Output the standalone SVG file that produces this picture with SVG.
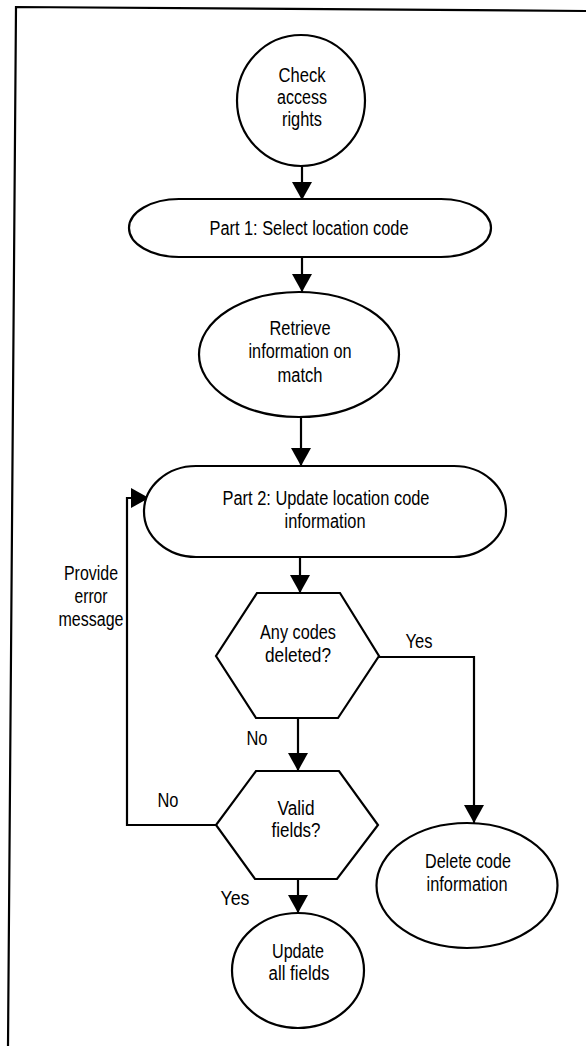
<svg xmlns="http://www.w3.org/2000/svg" width="586" height="1046" viewBox="0 0 586 1046">
<style>
.s{fill:#fff;stroke:#000;stroke-width:2.2}
.t{font-family:"Liberation Sans",Arial,sans-serif;font-size:20px;fill:#000;text-anchor:middle}
.c{fill:none;stroke:#000;stroke-width:2.2}
</style>
<defs>
<marker id="ah" viewBox="0 0 18 20" refX="18" refY="10" markerWidth="18" markerHeight="20" markerUnits="userSpaceOnUse" orient="auto">
<path d="M0,0 L18,10 L0,20 z" fill="#000"/>
</marker>
</defs>
<rect width="586" height="1046" fill="#fff"/>
<polyline class="c" points="8,1046 16,7 586,11"/>
<g id="connectors">
<path class="c" d="M302,166 V200" marker-end="url(#ah)"/>
<path class="c" d="M302,257 V292" marker-end="url(#ah)"/>
<path class="c" d="M301,417 V466" marker-end="url(#ah)"/>
<path class="c" d="M300,557 V593" marker-end="url(#ah)"/>
<path class="c" d="M379,657 H474 V823" marker-end="url(#ah)"/>
<path class="c" d="M298,718 V771" marker-end="url(#ah)"/>
<path class="c" d="M298,879 V913" marker-end="url(#ah)"/>
<path class="c" d="M216,825 H127 V498 H149" marker-end="url(#ah)"/>
<text class="t" x="419" y="648" textLength="27" lengthAdjust="spacingAndGlyphs">Yes</text>
<text class="t" x="257" y="745" textLength="21" lengthAdjust="spacingAndGlyphs">No</text>
<text class="t" x="168" y="807" textLength="21" lengthAdjust="spacingAndGlyphs">No</text>
<text class="t" x="235" y="905" textLength="29" lengthAdjust="spacingAndGlyphs">Yes</text>
<text class="t" x="91" y="580" textLength="54" lengthAdjust="spacingAndGlyphs">Provide</text>
<text class="t" x="91" y="603" textLength="33" lengthAdjust="spacingAndGlyphs">error</text>
<text class="t" x="91" y="626" textLength="65" lengthAdjust="spacingAndGlyphs">message</text>
</g>
<g id="check-access">
<ellipse class="s" cx="301" cy="100.5" rx="64" ry="65.5"/>
<text class="t" x="302" y="82" textLength="47" lengthAdjust="spacingAndGlyphs">Check</text>
<text class="t" x="302" y="104" textLength="50" lengthAdjust="spacingAndGlyphs">access</text>
<text class="t" x="302" y="126" textLength="40" lengthAdjust="spacingAndGlyphs">rights</text>
</g>
<g id="part1">
<rect class="s" x="129" y="199" width="362" height="58" rx="50" ry="29"/>
<text class="t" x="309" y="235" textLength="199" lengthAdjust="spacingAndGlyphs">Part 1: Select location code</text>
</g>
<g id="retrieve">
<ellipse class="s" cx="299" cy="354.5" rx="100" ry="62.5"/>
<text class="t" x="300" y="335" textLength="61" lengthAdjust="spacingAndGlyphs">Retrieve</text>
<text class="t" x="300" y="358" textLength="103" lengthAdjust="spacingAndGlyphs">information on</text>
<text class="t" x="300" y="382" textLength="45" lengthAdjust="spacingAndGlyphs">match</text>
</g>
<g id="part2">
<rect class="s" x="144" y="466" width="362" height="91" rx="52" ry="45.5"/>
<text class="t" x="326" y="505" textLength="207" lengthAdjust="spacingAndGlyphs">Part 2: Update location code</text>
<text class="t" x="325" y="528" textLength="81" lengthAdjust="spacingAndGlyphs">information</text>
</g>
<g id="any-codes">
<polygon class="s" points="257,593 340,593 379,656 338,718 256,718 216,656"/>
<text class="t" x="298" y="639" textLength="76" lengthAdjust="spacingAndGlyphs">Any codes</text>
<text class="t" x="298" y="662" textLength="66" lengthAdjust="spacingAndGlyphs">deleted?</text>
</g>
<g id="valid-fields">
<polygon class="s" points="256,771 339,771 378,825 337,879 255,879 216,825"/>
<text class="t" x="296" y="815" textLength="37" lengthAdjust="spacingAndGlyphs">Valid</text>
<text class="t" x="296" y="837" textLength="49" lengthAdjust="spacingAndGlyphs">fields?</text>
</g>
<g id="delete-code">
<ellipse class="s" cx="467" cy="885.5" rx="90.5" ry="62.5"/>
<text class="t" x="468" y="868" textLength="86" lengthAdjust="spacingAndGlyphs">Delete code</text>
<text class="t" x="467" y="891" textLength="81" lengthAdjust="spacingAndGlyphs">information</text>
</g>
<g id="update-all">
<ellipse class="s" cx="298" cy="970.5" rx="66" ry="57.5"/>
<text class="t" x="298" y="958" textLength="52" lengthAdjust="spacingAndGlyphs">Update</text>
<text class="t" x="299" y="980" textLength="61" lengthAdjust="spacingAndGlyphs">all fields</text>
</g>
</svg>
